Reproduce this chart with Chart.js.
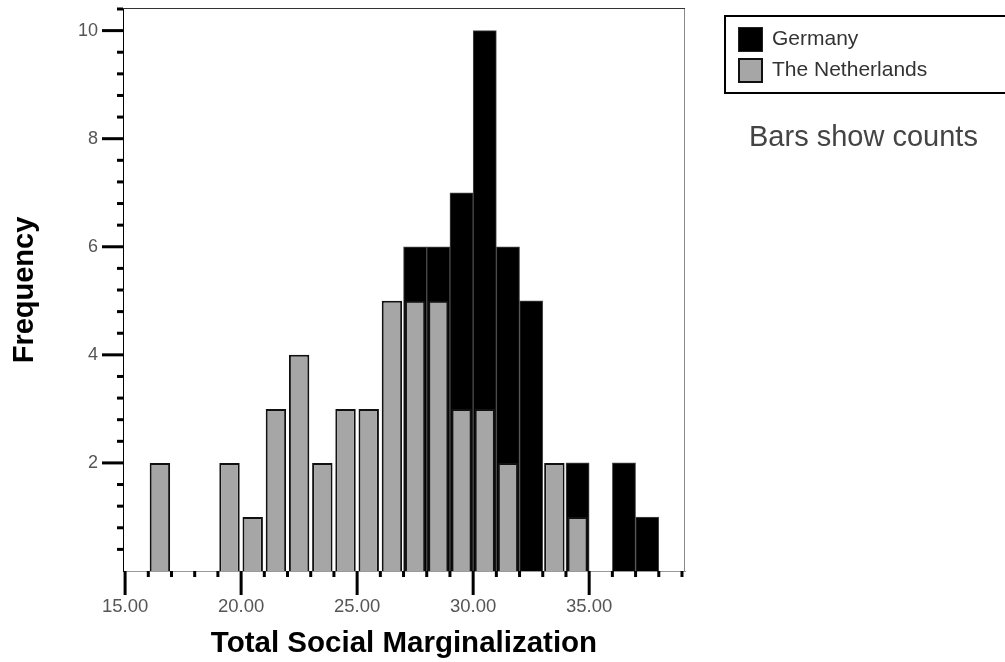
<!DOCTYPE html>
<html lang="en">

<head>
    <meta charset="UTF-8">
    <title>Total Social Marginalization</title>
    <script src="https://cdn.jsdelivr.net/npm/chart.js"></script>
    <style>
        body { margin: 0; background: #fff; font-family: Arial, "Liberation Sans", sans-serif; }
        #wrap { position: relative; width: 1005px; height: 662px; overflow: hidden; }
        #legend { position: absolute; left: 724px; top: 15px; width: 320px; height: 75px; border: 2px solid #000; }
        .item { position: absolute; left: 12px; font-size: 21px; color: #333; line-height: 25px; }
        .item span { position: absolute; left: 0; top: 0; box-sizing: content-box; }
        .item b { font-weight: normal; position: absolute; left: 34px; top: -2px; white-space: nowrap; }
        #note { position: absolute; left: 749px; top: 120px; font-size: 29px; color: #444; white-space: nowrap; }
    </style>
</head>

<body>
    <div id="wrap">
        <canvas id="hist"></canvas>
        <div id="legend"></div>
        <div id="note">Bars show counts</div>
    </div>

    <script>
        // bin midpoints (bins are 1 unit wide)
        const binMids = [16.5, 17.5, 18.5, 19.5, 20.5, 21.5, 22.5, 23.5, 24.5, 25.5, 26.5,
            27.5, 28.5, 29.5, 30.5, 31.5, 32.5, 33.5, 34.5, 35.5, 36.5, 37.5];
        const germany = [0, 0, 0, 0, 0, 0, 0, 0, 0, 0, 0,
            6, 6, 7, 10, 6, 5, 0, 2, 0, 2, 1];
        const netherlands = [2, 0, 0, 2, 1, 3, 4, 2, 3, 3, 5,
            5, 5, 3, 3, 2, 0, 2, 1, 0, 0, 0];

        const xMajorTicks = [15, 20, 25, 30, 35];
        const yMajorTicks = [2, 4, 6, 8, 10];

        const font = "Arial, 'Liberation Sans', sans-serif";

        function toPoints(counts) {
            return counts.map((v, i) => ({ x: binMids[i], y: v || null }));
        }

        // long ticks on labelled values, short ones in between, plus the top/right frame
        const tickMarks = {
            id: "tickMarks",
            afterDraw(chart) {
                const ctx = chart.ctx;
                const area = chart.chartArea;
                const xs = chart.scales.x;
                const ys = chart.scales.y;
                ctx.save();
                ctx.fillStyle = "#000";
                xs.ticks.forEach(t => {
                    const px = xs.getPixelForValue(t.value);
                    const len = xMajorTicks.includes(t.value) ? 24 : 6;
                    ctx.fillRect(px - 1.5, area.bottom, 3, len);
                });
                ys.ticks.forEach(t => {
                    if (t.value === 0) return;
                    const py = ys.getPixelForValue(t.value);
                    const len = yMajorTicks.includes(t.value) ? 21 : 6;
                    ctx.fillRect(area.left - len, py - 1.5, len, 3);
                });
                ctx.fillStyle = "#333";
                ctx.fillRect(area.left, area.top - 1, area.right - area.left, 1);
                ctx.fillStyle = "#8a8a8a";
                ctx.fillRect(area.right - 1, area.top, 1, area.bottom - area.top);
                ctx.restore();
            }
        };

        const ctx = document.getElementById("hist").getContext("2d");
        const chart = new Chart(ctx, {
            type: "bar",
            data: {
                datasets: [{
                    label: "Germany",
                    data: toPoints(germany),
                    backgroundColor: "#000",
                    borderColor: "#4a4a4a",
                    borderWidth: 1,
                    grouped: false,
                    order: 1,
                    barPercentage: 1,
                    categoryPercentage: 1
                }, {
                    label: "The Netherlands",
                    data: toPoints(netherlands),
                    backgroundColor: "#a6a6a6",
                    borderColor: "#111",
                    borderWidth: 2,
                    grouped: false,
                    order: 0,
                    barPercentage: 0.88,
                    categoryPercentage: 1
                }]
            },
            options: {
                responsive: true,
                maintainAspectRatio: false,
                animation: false,
                layout: { padding: { left: 0, top: 9, right: 320, bottom: 0 } },
                plugins: {
                    legend: { display: false },
                    tooltip: { enabled: false }
                },
                scales: {
                    x: {
                        type: "linear",
                        offset: false,
                        min: 14.91,
                        max: 39.13,
                        afterBuildTicks: s => {
                            s.ticks = [];
                            for (let v = 15; v <= 39; v++) s.ticks.push({ value: v });
                        },
                        afterFit: s => {
                            s.height = 91;
                            s.paddingLeft = 0;
                            s.paddingRight = 0;
                        },
                        grid: { display: false, drawTicks: false, tickLength: 0 },
                        border: { display: true, color: "#999", width: 1 },
                        ticks: {
                            autoSkip: false,
                            maxRotation: 0,
                            padding: 25,
                            color: "#555",
                            font: { family: font, size: 18.5 },
                            callback: v => xMajorTicks.includes(v) ? v.toFixed(2) : ""
                        },
                        title: {
                            display: true,
                            text: "Total Social Marginalization",
                            color: "#000",
                            font: { family: font, size: 29.5, weight: "bold" },
                            padding: { top: 0, bottom: 0 }
                        }
                    },
                    y: {
                        min: 0,
                        max: 10.4,
                        afterBuildTicks: s => {
                            s.ticks = [];
                            for (let i = 0; i <= 26; i++) s.ticks.push({ value: Math.round(i * 4) / 10 });
                        },
                        afterFit: s => {
                            s.width = 123;
                            s.paddingTop = 0;
                            s.paddingBottom = 0;
                        },
                        grid: { display: false, drawTicks: false, tickLength: 0 },
                        border: { display: true, color: "#000", width: 1 },
                        ticks: {
                            autoSkip: false,
                            padding: 25,
                            color: "#555",
                            font: { family: font, size: 18 },
                            callback: v => yMajorTicks.includes(v) ? String(v) : ""
                        },
                        title: {
                            display: true,
                            text: "Frequency",
                            color: "#000",
                            font: { family: font, size: 29, weight: "bold" },
                            padding: { top: 8, bottom: 0 }
                        }
                    }
                }
            },
            plugins: [tickMarks]
        });

        // legend box built from the datasets
        const legend = document.getElementById("legend");
        chart.data.datasets.forEach((ds, i) => {
            const item = document.createElement("div");
            item.className = "item";
            item.style.top = (10 + i * 31) + "px";
            const border = ds.borderWidth > 1 ? "2px solid #111" : "1px solid #222";
            const size = ds.borderWidth > 1 ? "21px" : "23px";
            item.innerHTML = `<span style="background:${ds.backgroundColor};border:${border};width:${size};height:${size}"></span><b>${ds.label}</b>`;
            legend.appendChild(item);
        });
    </script>
</body>

</html>
